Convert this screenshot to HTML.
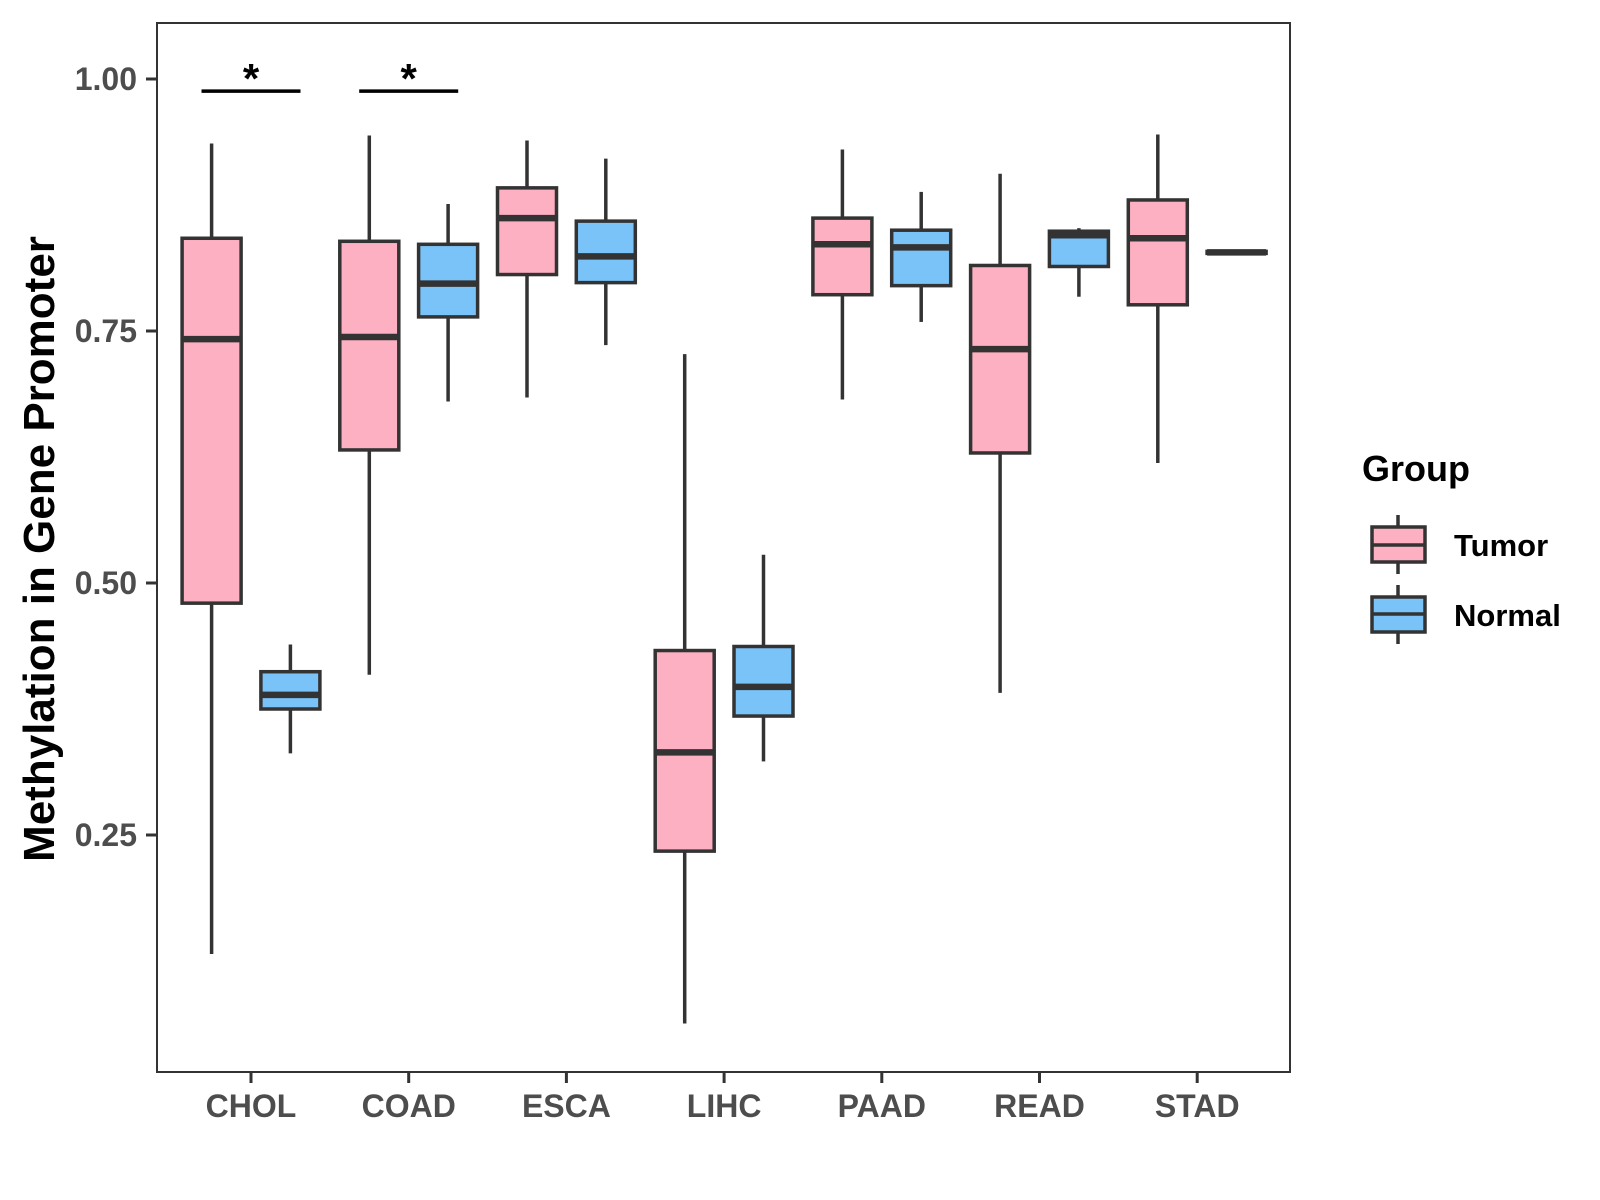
<!DOCTYPE html>
<html><head><meta charset="utf-8"><style>
html,body{margin:0;padding:0;background:#fff;}
svg{display:block;font-family:"Liberation Sans",Arial,sans-serif;}
</style></head><body>
<svg id="chart" width="1600" height="1200" viewBox="0 0 1600 1200">
<rect x="0" y="0" width="1600" height="1200" fill="#fff"/>
<g id="marks"></g>
<rect x="157" y="23" width="1133" height="1049" fill="none" stroke="#333" stroke-width="2"/>
<g id="axes"></g>
<text transform="translate(54,549) rotate(-90)" text-anchor="middle" font-size="44" font-weight="bold" fill="#000">Methylation in Gene Promoter</text>
<g>
<text x="1362" y="481" font-size="36" font-weight="bold" fill="#000">Group</text>
<g>
<line x1="1398" y1="515" x2="1398" y2="574" stroke="#333" stroke-width="3.5"/>
<rect x="1372" y="527" width="53" height="35" fill="#FDB0C2" stroke="#333" stroke-width="3.5"/>
<line x1="1372" y1="545" x2="1425" y2="545" stroke="#333" stroke-width="3.5"/>
<text x="1454" y="556" font-size="31" font-weight="bold" fill="#000">Tumor</text>
</g>
<g>
<line x1="1398" y1="585" x2="1398" y2="644" stroke="#333" stroke-width="3.5"/>
<rect x="1372" y="597" width="53" height="35" fill="#7AC3F8" stroke="#333" stroke-width="3.5"/>
<line x1="1372" y1="614" x2="1425" y2="614" stroke="#333" stroke-width="3.5"/>
<text x="1454" y="626" font-size="31" font-weight="bold" fill="#000">Normal</text>
</g>
</g>
</svg>
<script>
const categories = ["CHOL","COAD","ESCA","LIHC","PAAD","READ","STAD"];
const tumorLow = [0.132,0.409,0.684,0.063,0.682,0.391,0.619];
const tumorQ1 = [0.480,0.632,0.806,0.234,0.786,0.629,0.776];
const tumorMed = [0.742,0.744,0.862,0.332,0.836,0.732,0.842];
const tumorQ3 = [0.842,0.839,0.892,0.433,0.862,0.815,0.880];
const tumorHigh = [0.936,0.944,0.939,0.727,0.930,0.906,0.945];
const normalLow = [0.331,0.680,0.736,0.323,0.759,0.784,0.828];
const normalQ1 = [0.375,0.764,0.798,0.368,0.795,0.814,0.827];
const normalMed = [0.389,0.797,0.824,0.397,0.833,0.845,0.828];
const normalQ3 = [0.412,0.836,0.859,0.437,0.850,0.849,0.829];
const normalHigh = [0.439,0.876,0.921,0.528,0.888,0.852,0.828];
const yTicks = [0.25,0.50,0.75,1.00];
const yTickLabels = ["0.25","0.50","0.75","1.00"];
const sigCategories = ["CHOL","COAD"];
const sigLevel = 0.988;
const sigLabels = ["*","*"];

const NS="http://www.w3.org/2000/svg";
function yS(v){return 79+(1-v)*1008;}
function xS(i){return 251+157.7*i;}
const BW=59, OFF=39.4;
function mk(tag,attrs,parent){const e=document.createElementNS(NS,tag);for(const k in attrs)e.setAttribute(k,attrs[k]);parent.appendChild(e);return e;}
const marks=document.getElementById('marks');
const axes=document.getElementById('axes');
function drawBox(cx,lo,q1,md,q3,hi,fill,name){
  const g=mk('g',{},marks);
  
  
  mk('line',{x1:cx,x2:cx,y1:yS(hi),y2:yS(q3),stroke:'#333','stroke-width':3.5},g);
  mk('line',{x1:cx,x2:cx,y1:yS(q1),y2:yS(lo),stroke:'#333','stroke-width':3.5},g);
  mk('rect',{x:cx-BW/2,y:yS(q3),width:BW,height:Math.max(yS(q1)-yS(q3),0.5),fill:fill,stroke:'#333','stroke-width':3.5},g);
  mk('line',{x1:cx-BW/2,x2:cx+BW/2,y1:yS(md),y2:yS(md),stroke:'#333','stroke-width':6.5},g);
}
categories.forEach((c,i)=>{
  drawBox(xS(i)-OFF,tumorLow[i],tumorQ1[i],tumorMed[i],tumorQ3[i],tumorHigh[i],'#FDB0C2','box-'+c.toLowerCase()+'-tumor');
  drawBox(xS(i)+OFF,normalLow[i],normalQ1[i],normalMed[i],normalQ3[i],normalHigh[i],'#7AC3F8','box-'+c.toLowerCase()+'-normal');
  const tk=mk('line',{x1:xS(i),x2:xS(i),y1:1072,y2:1083,stroke:'#333','stroke-width':3},axes);
  
  
  const t=mk('text',{x:xS(i),y:1117,'text-anchor':'middle','font-size':32,'font-weight':'bold',fill:'#4d4d4d'},axes);
  t.textContent=c;
  
  
});
yTicks.forEach((v,i)=>{
  const tk=mk('line',{x1:146,x2:157,y1:yS(v),y2:yS(v),stroke:'#333','stroke-width':3},axes);
  
  
  const t=mk('text',{x:137,y:yS(v)+11,'text-anchor':'end','font-size':32,'font-weight':'bold',fill:'#4d4d4d'},axes);
  t.textContent=yTickLabels[i];
  
  
});
sigCategories.forEach((c,j)=>{
  const i=categories.indexOf(c);
  const l=mk('line',{x1:xS(i)-49.5,x2:xS(i)+49.5,y1:yS(sigLevel),y2:yS(sigLevel),stroke:'#000','stroke-width':3.5},marks);
  
  
  const t=mk('text',{x:xS(i),y:yS(sigLevel)+2,'text-anchor':'middle','font-size':42,'font-weight':'bold',fill:'#000'},marks);
  t.textContent=sigLabels[j];
  
  
});
</script>
</body></html>
